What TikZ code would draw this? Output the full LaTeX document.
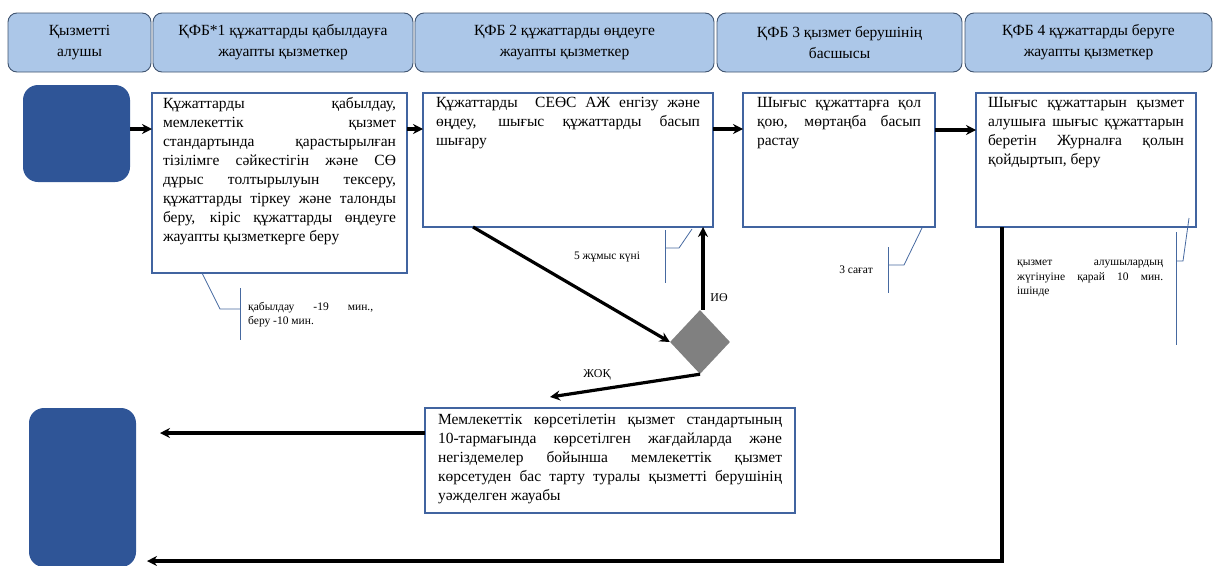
\documentclass[tikz,border=0pt]{standalone}
\usepackage{fontspec}
\setmainfont{Liberation Serif}
\usetikzlibrary{shapes.geometric,arrows.meta,calc}
\definecolor{hdrfill}{RGB}{172,199,232}
\definecolor{hdrdraw}{RGB}{64,84,112}
\definecolor{termfill}{RGB}{47,85,151}
\definecolor{boxdraw}{RGB}{65,100,160}
\definecolor{callc}{RGB}{70,105,160}
\definecolor{diamc}{RGB}{128,128,128}
\newcommand{\bxt}[3]{\parbox[t][#2][t]{#1}{\fontsize{15.5}{19}\selectfont\hyphenpenalty=10000\exhyphenpenalty=10000 #3}}
\newcommand{\smt}[2]{\parbox[t]{#1}{\fontsize{11.5}{14.5}\selectfont\hyphenpenalty=10000 #2}}
\tikzset{
  hdr/.style={draw=hdrdraw, fill=hdrfill, rounded corners=9pt, line width=0.9pt, align=center,
    anchor=north west, inner sep=0pt, outer sep=0pt, minimum height=59pt,
    font=\fontsize{15.5}{21}\selectfont},
  term/.style={fill=termfill, rounded corners=15pt, anchor=north west, inner sep=0pt, outer sep=0pt},
  pbox/.style={draw=boxdraw, line width=1.6pt, anchor=north west, outer sep=0pt, fill=white},
  arr/.style={line width=3.2pt, -{Stealth[length=10pt,width=10pt]}},
  calline/.style={draw=callc, line width=0.8pt},
  smtext/.style={inner sep=0pt, anchor=north west},
  smlbl/.style={inner sep=0pt, font=\fontsize{11.5}{14}\selectfont},
  lbl/.style={font=\fontsize{12}{14}\selectfont, inner sep=0pt}
}
\begin{document}
\begin{tikzpicture}[x=1pt,y=-1pt]
\useasboundingbox (0,0) rectangle (1214,565);
\clip (0,0) rectangle (1214,565);
% headers
\node[hdr, minimum width=143pt] (h1) at (8,13) {Қызметті\\алушы};
\node[hdr, minimum width=260pt] (h2) at (153,13) {ҚФБ*1 құжаттарды қабылдауға\\жауапты қызметкер};
\node[hdr, minimum width=299pt] (h3) at (415,13) {ҚФБ 2 құжаттарды өңдеуге\\жауапты қызметкер};
\node[hdr, minimum width=245pt] (h4) at (717,13) {ҚФБ 3 қызмет берушінің\\басшысы};
\node[hdr, minimum width=247pt] (h5) at (965,13) {ҚФБ 4 құжаттарды беруге\\жауапты қызметкер};
% terminals
\node[term, minimum width=107pt, minimum height=97pt] (start) at (23,85) {};
\node[term, minimum width=107pt, minimum height=159pt] (end) at (29,408) {};
% process boxes
\node[pbox, inner xsep=11pt, inner ysep=4pt] (box1) at (152,93)
 {\bxt{233pt}{172pt}{Құжаттарды қабылдау,\linebreak мемлекеттік қызмет\linebreak стандартында қарастырылған\linebreak тізілімге сәйкестігін және СӨ\linebreak дұрыс толтырылуын тексеру,\linebreak құжаттарды тіркеу және талонды\linebreak беру, кіріс құжаттарды өңдеуге\linebreak жауапты қызметкерге беру}};
\node[pbox, inner xsep=13pt, inner ysep=4pt] (box2) at (423,93)
 {\bxt{264pt}{126pt}{Құжаттарды \ СЕӨС АЖ енгізу және\linebreak өңдеу, шығыс құжаттарды басып\linebreak шығару}};
\node[pbox, inner xsep=14pt, inner ysep=4pt] (box3) at (743,93)
 {\bxt{164pt}{126pt}{Шығыс құжаттарға қол\linebreak қою, мөртаңба басып\linebreak растау}};
\node[pbox, inner xsep=12pt, inner ysep=4pt] (box4) at (976,93)
 {\bxt{196pt}{126pt}{Шығыс құжаттарын қызмет\linebreak алушыға шығыс құжаттарын\linebreak беретін Журналға қолын\linebreak қойдыртып, беру}};
\node[pbox, inner xsep=13pt, inner ysep=6pt] (box5) at (425,408)
 {\bxt{344pt}{93pt}{Мемлекеттік көрсетілетін қызмет стандартының\linebreak 10-тармағында көрсетілген жағдайларда және\linebreak негіздемелер бойынша мемлекеттік қызмет\linebreak көрсетуден бас тарту туралы қызметті берушінің\linebreak уәжделген жауабы}};
% decision
\node[diamond, fill=diamc, minimum width=60pt, minimum height=64pt, inner sep=0pt] (dec) at (700,342) {};
% callout texts
\node[smtext] (c1t) at (248,302) {\smt{125pt}{қабылдау \ -19 \ мин.,\linebreak беру -10 мин.}};
\node[smlbl] (c2t) at (607,257) {5 жұмыс күні};
\node[smlbl] (c3t) at (856,270) {3 сағат};
\node[smtext] (c4t) at (1017,260) {\smt{146pt}{қызмет алушылардың\linebreak жүгінуіне қарай 10 мин.\linebreak ішінде}};
% labels
\node[lbl] (yes) at (719,298) {ИӨ};
\node[lbl] (no) at (597,375) {ЖОҚ};
% helper coordinates
\coordinate (row1) at (0,129);
\coordinate (row2) at (0,130);
\coordinate (noend) at (550,397);
\coordinate (rej) at (0,433);
\coordinate (rejend) at (160,433);
\coordinate (botrow) at (0,561);
\coordinate (botend) at (147,561);
\coordinate (b2out) at ($(box2.south west)+(50,0)$);
\coordinate (decup) at ($(dec.north)+(3,0)$);
\coordinate (b4out) at ($(box4.south west)+(26,0)$);
% arrows
\draw[arr] (start.east |- row1) -- (box1.west |- row1);
\draw[arr] (box1.east |- row1) -- (box2.west |- row1);
\draw[arr] (box2.east |- row1) -- (box3.west |- row1);
\draw[arr] (box3.east |- row2) -- (box4.west |- row2);
\draw[arr] (b2out) -- (dec.west);
\draw[arr] (decup) -- (decup |- box2.south);
\draw[arr] (dec.south) -- (noend);
\draw[arr] (box5.west |- rej) -- (rejend);
\draw[arr] (b4out) -- (b4out |- botrow) -- (botend);
% callout brackets
\draw[calline] ($(box1.south west)+(50,0)$) -- (220,309) -- (240,309);
\draw[calline] (240,288) -- (240,340);
\draw[calline] ($(box2.south east)+(-21,2)$) -- (679,248) -- (665,248);
\draw[calline] (665,230) -- (665,283);
\draw[calline] ($(box3.south east)+(-13,1)$) -- (904,265) -- (888,265);
\draw[calline] (888,247) -- (888,293);
\draw[calline] (1189,218) -- (1183,261) -- (1176,261);
\draw[calline] (1176,232) -- (1176,345);
\end{tikzpicture}
\end{document}
